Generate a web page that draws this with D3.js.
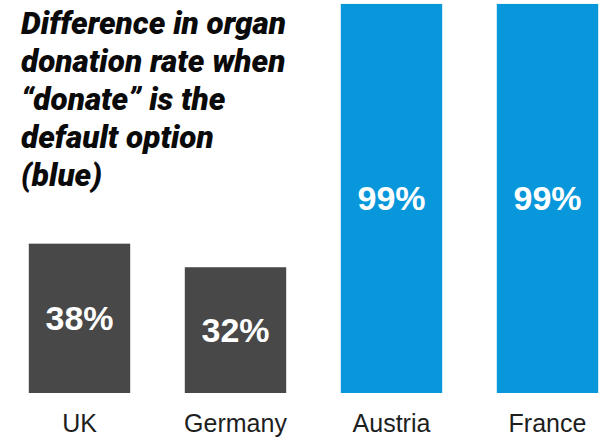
<!DOCTYPE html>
<html>
<head>
<meta charset="utf-8">
<script src="https://cdn.jsdelivr.net/npm/d3@7"></script>
<style>
  html, body { margin: 0; padding: 0; background: #ffffff; }
  svg { display: block; }
</style>
</head>
<body>
<svg id="chart" width="602" height="438"></svg>
<script>
// Organ donation rates by country; blue bars mark an opt-out ("donate" by default) system
const countries = ["UK", "Germany", "Austria", "France"];
const rates = [38, 32, 99, 99];
const defaultDonate = [false, false, true, true];
const titleLines = [
  "Difference in organ",
  "donation rate when",
  "\u201Cdonate\u201D is the",
  "default option",
  "(blue)"
];

const width = 602, height = 438;
const baseline = 393;

const svg = d3.select("#chart");

const x = d3.scaleBand()
  .domain(countries)
  .range([1.5, 625.5])
  .paddingInner(0.35)
  .paddingOuter(0.175);

const y = d3.scaleLinear()
  .domain([0, 100])
  .range([baseline, 0]);

const color = d => d ? "#0997db" : "#484848";

const data = countries.map((c, i) => ({ country: c, rate: rates[i], opt: defaultDonate[i] }));

// bars
svg.append("g")
  .selectAll("rect")
  .data(data)
  .join("rect")
  .attr("x", d => x(d.country))
  .attr("y", d => y(d.rate))
  .attr("width", x.bandwidth())
  .attr("height", d => y(0) - y(d.rate))
  .attr("fill", d => color(d.opt));

// value labels centred inside bars
svg.append("g")
  .selectAll("text")
  .data(data)
  .join("text")
  .attr("x", d => x(d.country) + x.bandwidth() / 2)
  .attr("y", d => (y(d.rate) + y(0)) / 2 + 12)
  .attr("text-anchor", "middle")
  .attr("font-family", "Liberation Sans, Arial, sans-serif")
  .attr("font-weight", "bold")
  .attr("font-size", 34)
  .attr("fill", "#ffffff")
  .text(d => d.rate + "%");

// category axis
const xAxis = svg.append("g")
  .attr("transform", `translate(0,${baseline})`)
  .call(d3.axisBottom(x).tickSize(0).tickPadding(0));
xAxis.select(".domain").remove();
xAxis.selectAll("text")
  .attr("dy", null)
  .attr("y", 39)
  .attr("font-family", "Liberation Sans, Arial, sans-serif")
  .attr("font-size", 25)
  .attr("fill", "#1e1e1e");

// title
svg.append("text")
  .attr("x", 21)
  .attr("font-family", "Roboto, sans-serif")
  .attr("font-weight", 900)
  .attr("font-style", "italic")
  .attr("font-size", 31.5)
  .attr("fill", "#0a0a0a")
  .selectAll("tspan")
  .data(titleLines)
  .join("tspan")
  .attr("x", 21)
  .attr("y", (d, i) => 34 + i * 38)
  .text(d => d);
</script>
</body>
</html>
